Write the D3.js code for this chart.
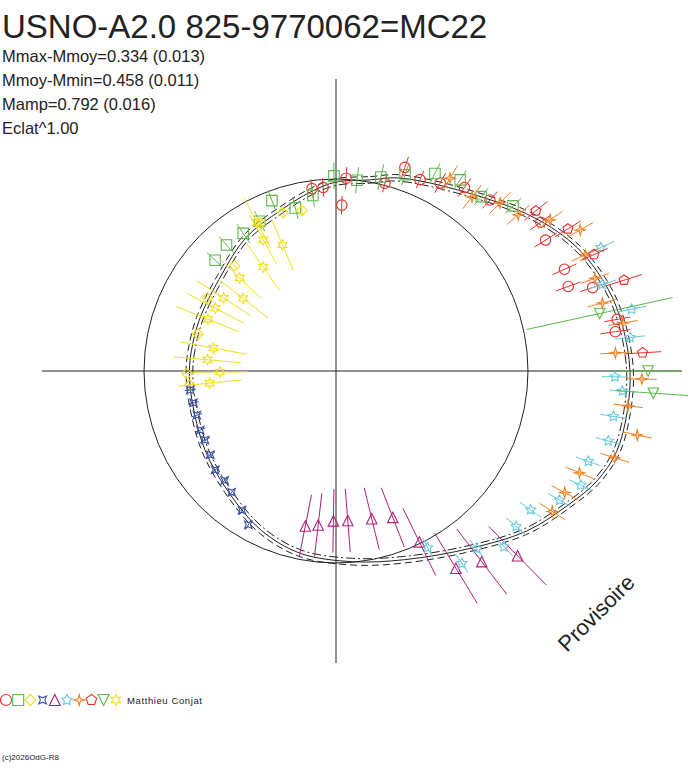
<!DOCTYPE html>
<html><head><meta charset="utf-8">
<script src="https://cdn.jsdelivr.net/npm/d3@7"></script>
<style>body{margin:0;background:#fff}svg{display:block}text{font-family:"Liberation Sans",Arial,sans-serif}</style>
</head><body><svg id="chart" width="688" height="768"></svg>
<script>
// mean light curve: phase (deg) and delta magnitude
const curvePhase = [0,10,18,36,52,63,73,81,90,98,106,113,120,130,143,160,175,191,205,220,239,259,270,278,291,309,326,341,352];
const curveDm = [-0.228,-0.201,-0.153,-0.057,0.099,0.211,0.280,0.313,0.334,0.334,0.323,0.275,0.195,0.093,-0.050,-0.165,-0.215,-0.245,-0.297,-0.367,-0.421,-0.453,-0.455,-0.458,-0.458,-0.442,-0.378,-0.330,-0.271];
const refCircleDm = -0.212;

const seriesNames = ['circle','square','diamond','star4b','triangle','star5','star4o','pentagon','triDown','star6'];
const seriesColors = ['#e8302a','#5cb84a','#f0e020','#3a52a8','#b0207a','#68c8e0','#f08020','#e8302a','#5cb84a','#f0e020'];

// [phaseDeg, dm, err]
const circles = [[3,-0.206,0.06],[2,-0.351,0.05],[352.5,-0.255,0.05],[356,-0.255,0.05],[18.7,-0.089,0.06],[14.6,-0.201,0.05],[23.7,-0.121,0.05],[29,-0.089,0.06],[35,-0.041,0.06],[42,-0.008,0.06],[54,0.115,0.07],[58,0.083,0.07],[66,0.099,0.07],[70,0.083,0.07],[72,0.205,0.07],[79.6,0.291,0.07],[82,0.270,0.08]];
const squares = [[312.5,-0.362,0.06],[319,-0.346,0.06],[326,-0.351,0.06],[333,-0.340,0.06],[339.4,-0.265,0.06],[346,-0.340,0.06],[352.5,-0.292,0.06],[359.4,-0.195,0.07],[6.3,-0.212,0.07],[13,-0.174,0.07],[19.4,-0.126,0.06],[26.6,-0.057,0.06],[33,-0.020,0.06],[39.8,-0.025,0.06],[47,0.056,0.06]];
const diamonds = [[348,-0.361,0.03],[341.5,-0.345,0.03],[333,-0.351,0.03],[316,-0.458,0.03],[299.5,-0.447,0.03],[285,-0.474,0.03],[269,-0.442,0.03],[264.5,-0.453,0.03]];
const blueStars = [[262.6,-0.453,0.03],[257.4,-0.458,0.03],[252.4,-0.458,0.03],[246.5,-0.447,0.03],[242.2,-0.447,0.03],[236.3,-0.431,0.03],[230.7,-0.404,0.03],[225.5,-0.404,0.03],[220.7,-0.383,0.03],[214,-0.340,0.03],[209.7,-0.292,0.03]];
const triangles = [[191.2,-0.394,0.17],[186.6,-0.410,0.17],[181,-0.437,0.17],[175.5,-0.437,0.17],[166.4,-0.426,0.17],[158.8,-0.399,0.17],[154,-0.222,0.2],[148.7,-0.004,0.22],[142.6,0.045,0.22],[135.5,0.147,0.22]];
const cyanStars = [[65,0.324,0.08],[72,0.259,0.08],[78.2,0.377,0.08],[83.5,0.345,0.08],[91.2,0.254,0.07],[94,0.297,0.07],[99.3,0.265,0.07],[104.4,0.265,0.07],[109.7,0.195,0.07],[115,0.206,0.07],[120,0.142,0.07],[125.5,0.040,0.07],[130.8,0.034,0.07],[136.3,0.061,0.07],[141.6,-0.025,0.06],[146.8,-0.009,0.06],[152.6,-0.174,0.06]];
const orangeStars = [[30.6,-0.041,0.08],[38,-0.057,0.08],[44.3,0.018,0.08],[49.4,0.045,0.08],[54.8,0.163,0.08],[60,0.270,0.08],[65,0.232,0.08],[70.3,0.232,0.08],[75.7,0.232,0.08],[80.5,0.318,0.08],[86.3,0.259,0.08],[91.5,0.398,0.08],[96.8,0.334,0.08],[102,0.409,0.08],[107.3,0.323,0.08],[112.7,0.173,0.08],[118,0.147,0.08],[123,0.141,0.08]];
const pentagons = [[58.5,0.216,0.08],[65.7,0.275,0.08],[72.5,0.377,0.1],[86.6,0.404,0.1],[51.3,0.131,0.08]];
const downTris = [[77.7,0.205,0.4],[90,0.431,0.18],[94,0.463,0.2]];
const yellowStars = [[337,-0.507,0.15],[325,-0.560,0.15],[331,-0.437,0.15],[314,-0.522,0.16],[308,-0.608,0.17],[303,-0.522,0.17],[297.5,-0.512,0.17],[292,-0.501,0.18],[280.6,-0.571,0.18],[275,-0.549,0.18],[269.5,-0.618,0.15],[264.5,-0.560,0.17],[332,-0.340,0.15]];
const allSeries = [circles,squares,diamonds,blueStars,triangles,cyanStars,orangeStars,pentagons,downTris,yellowStars];

const statsLines = ['Mmax-Mmoy=0.334 (0.013)','Mmoy-Mmin=0.458 (0.011)','Mamp=0.792 (0.016)','Eclat^1.00'];

const svg = d3.select('#chart');
const cx = 336, cy = 371;
const r = d3.scaleLinear().domain([-0.458, 0.334]).range([146, 294]);
const ang = d3.scaleLinear().domain([0, 360]).range([0, 2 * Math.PI]);
const pos = (deg, dm) => [cx + r(dm) * Math.sin(ang(deg)), cy - r(dm) * Math.cos(ang(deg))];

svg.append('text').attr('x', 2).attr('y', 38).attr('font-size', 33).attr('fill', '#222').text('USNO-A2.0 825-9770062=MC22');
statsLines.forEach((t, i) => svg.append('text').attr('x', 2).attr('y', 62 + i * 24).attr('font-size', 16.5).attr('fill', '#222').text(t));

svg.append('line').attr('x1', 42).attr('x2', 682).attr('y1', cy).attr('y2', cy).attr('stroke', '#222');
svg.append('line').attr('x1', cx).attr('x2', cx).attr('y1', 79).attr('y2', 663).attr('stroke', '#222');
svg.append('circle').attr('cx', cx).attr('cy', cy).attr('r', r(refCircleDm)).attr('fill', 'none').attr('stroke', '#222');

const g = svg.append('g').attr('transform', `translate(${cx},${cy})`);
const radial = off => d3.lineRadial().curve(d3.curveCatmullRomClosed.alpha(0.5))
  .angle((d, i) => ang(curvePhase[i])).radius((d, i) => r(curveDm[i] + off));
[[0, null], [0.018, '7,4'], [-0.018, '9,3,2,3']].forEach(([off, dash]) => {
  g.append('path').attr('d', radial(off)(curveDm)).attr('fill', 'none').attr('stroke', '#222')
    .attr('stroke-width', 1).attr('stroke-dasharray', dash);
});

function symbolPath(name, s) {
  const h = s / 2;
  if (name === 'circle') return d3.symbol(d3.symbolCircle, s * s * 0.78)();
  if (name === 'square') return `M${-h},${-h}H${h}V${h}H${-h}Z`;
  if (name === 'diamond') return `M0,${-h}L${h},0L0,${h}L${-h},0Z`;
  if (name === 'triangle') return `M0,${-h}L${h},${h}L${-h},${h}Z`;
  if (name === 'triDown') return `M${-h},${-h}L${h},${-h}L0,${h}Z`;
  const star = (n, inner, rot) => {
    const pts = d3.range(n * 2).map(i => {
      const a = rot + i * Math.PI / n, rr = i % 2 ? h * inner : h;
      return [rr * Math.sin(a), -rr * Math.cos(a)];
    });
    return 'M' + pts.join('L') + 'Z';
  };
  if (name === 'pentagon') return star(5, Math.cos(Math.PI / 5), 0);
  if (name === 'star4b') return star(4, 0.4, Math.PI / 4);
  if (name === 'star4o') return star(4, 0.3, 0);
  if (name === 'star5') return star(5, 0.5, 0);
  return star(6, 0.5, 0);
}

allSeries.forEach((data, si) => {
  const col = seriesColors[si];
  const sg = svg.append('g');
  data.forEach(([p, dm, e]) => {
    const a = pos(p, dm - e), b = pos(p, dm + e), c = pos(p, dm);
    sg.append('line').attr('x1', a[0]).attr('y1', a[1]).attr('x2', b[0]).attr('y2', b[1]).attr('stroke', col);
    sg.append('path').attr('d', symbolPath(seriesNames[si], 10.5)).attr('transform', `translate(${c})`)
      .attr('fill', 'none').attr('stroke', col).attr('stroke-width', 1.1);
  });
});

// legend
seriesNames.forEach((n, i) => {
  svg.append('path').attr('d', symbolPath(n, 11)).attr('transform', `translate(${6 + i * 12.2},700)`)
    .attr('fill', 'none').attr('stroke', seriesColors[i]).attr('stroke-width', 1.1);
});
svg.append('text').attr('x', 127).attr('y', 704).attr('font-size', 9.5).attr('letter-spacing', 0.6).attr('fill', '#222').text('Matthieu Conjat');
svg.append('text').attr('x', 2).attr('y', 760).attr('font-size', 8).attr('fill', '#222').text('(c)2026OdG-R8');
svg.append('text').attr('transform', 'translate(567,653) rotate(-45)').attr('font-size', 22).attr('fill', '#222').text('Provisoire');
</script></body></html>
